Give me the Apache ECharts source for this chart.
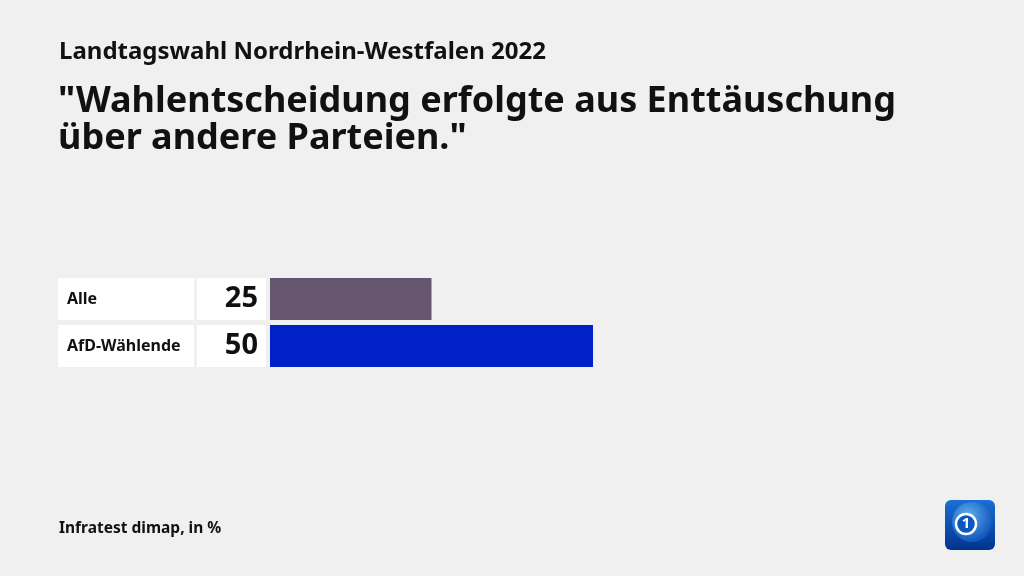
<!DOCTYPE html>
<html><head><meta charset="utf-8">
<script src="https://cdn.jsdelivr.net/npm/echarts@6/dist/echarts.min.js"></script>
<style>html,body{margin:0;padding:0;background:#f0f0f0}#c{width:1024px;height:576px}</style>
</head><body><div id="c"></div>
<script>
const categories = ['Alle', 'AfD-Wählende'];
const values = [25, 50];
const colors = ['#675670', '#0021c8'];

const F = '"Noto Sans", "Open Sans", sans-serif';
const chart = echarts.init(document.getElementById('c'));
chart.setOption({
  backgroundColor: '#f0f0f0',
  animation: false,
  title: [
    {text: 'Landtagswahl Nordrhein-Westfalen 2022', left: 59, top: 40, padding: 0,
     textStyle: {fontFamily: F, fontSize: 24, fontWeight: 700, color: '#111'}},
    {text: '"Wahlentscheidung erfolgte aus Enttäuschung\nüber andere Parteien."', left: 58, top: 83, padding: 0,
     textStyle: {fontFamily: F, fontSize: 36, fontWeight: 700, color: '#111', lineHeight: 37}},
    {text: 'Infratest dimap, in %', left: 59, top: 521, padding: 0,
     textStyle: {fontFamily: F, fontSize: 15.5, fontWeight: 700, color: '#111'}}
  ],
  grid: {left: 270, top: 275.5, width: 646, height: 94, containLabel: false},
  xAxis: {type: 'value', min: 0, max: 100, show: false},
  yAxis: {
    type: 'category', inverse: true, data: categories,
    axisLine: {show: false}, axisTick: {show: false},
    axisLabel: {
      margin: 4,
      formatter: (v, i) => '{n|' + v + '}{s|}{v|' + values[i] + '}',
      rich: {
        n: {width: 127, height: 42, lineHeight: 42, backgroundColor: '#fff', align: 'left',
            padding: [0, 0, 0, 9], fontFamily: F, fontSize: 16, fontWeight: 700, color: '#111'},
        s: {width: 3, height: 42},
        v: {width: 61, height: 42, lineHeight: 42, backgroundColor: '#fff', align: 'right',
            padding: [0, 8, 0, 0], fontFamily: F, fontSize: 29, fontWeight: 700, color: '#111'}
      }
    }
  },
  series: [{
    type: 'bar', barWidth: 42,
    data: values.map((v, i) => ({value: v, itemStyle: {color: colors[i]}})),
    label: {show: false}
  }],
  graphic: [
    {type: 'rect', shape: {x: 945, y: 500, width: 50, height: 50, r: 6},
     style: {fill: new echarts.graphic.LinearGradient(0, 0, 0, 1, [{offset: 0, color: '#1a6fd6'}, {offset: 1, color: '#02338c'}])}},
    {type: 'circle', shape: {cx: 972, cy: 522, r: 20},
     style: {fill: new echarts.graphic.RadialGradient(0.4, 0.35, 0.7, [{offset: 0, color: '#5fb0f0'}, {offset: 1, color: '#0b4fb8'}])}},
    {type: 'circle', shape: {cx: 966, cy: 524, r: 10},
     style: {fill: '#0a57c0', stroke: '#fff', lineWidth: 2.5}},
    {type: 'text', x: 966, y: 524, style: {text: '1', fill: '#fff', fontFamily: F, fontSize: 15, fontWeight: 700, align: 'center', verticalAlign: 'middle'}}
  ]
});
</script></body></html>
